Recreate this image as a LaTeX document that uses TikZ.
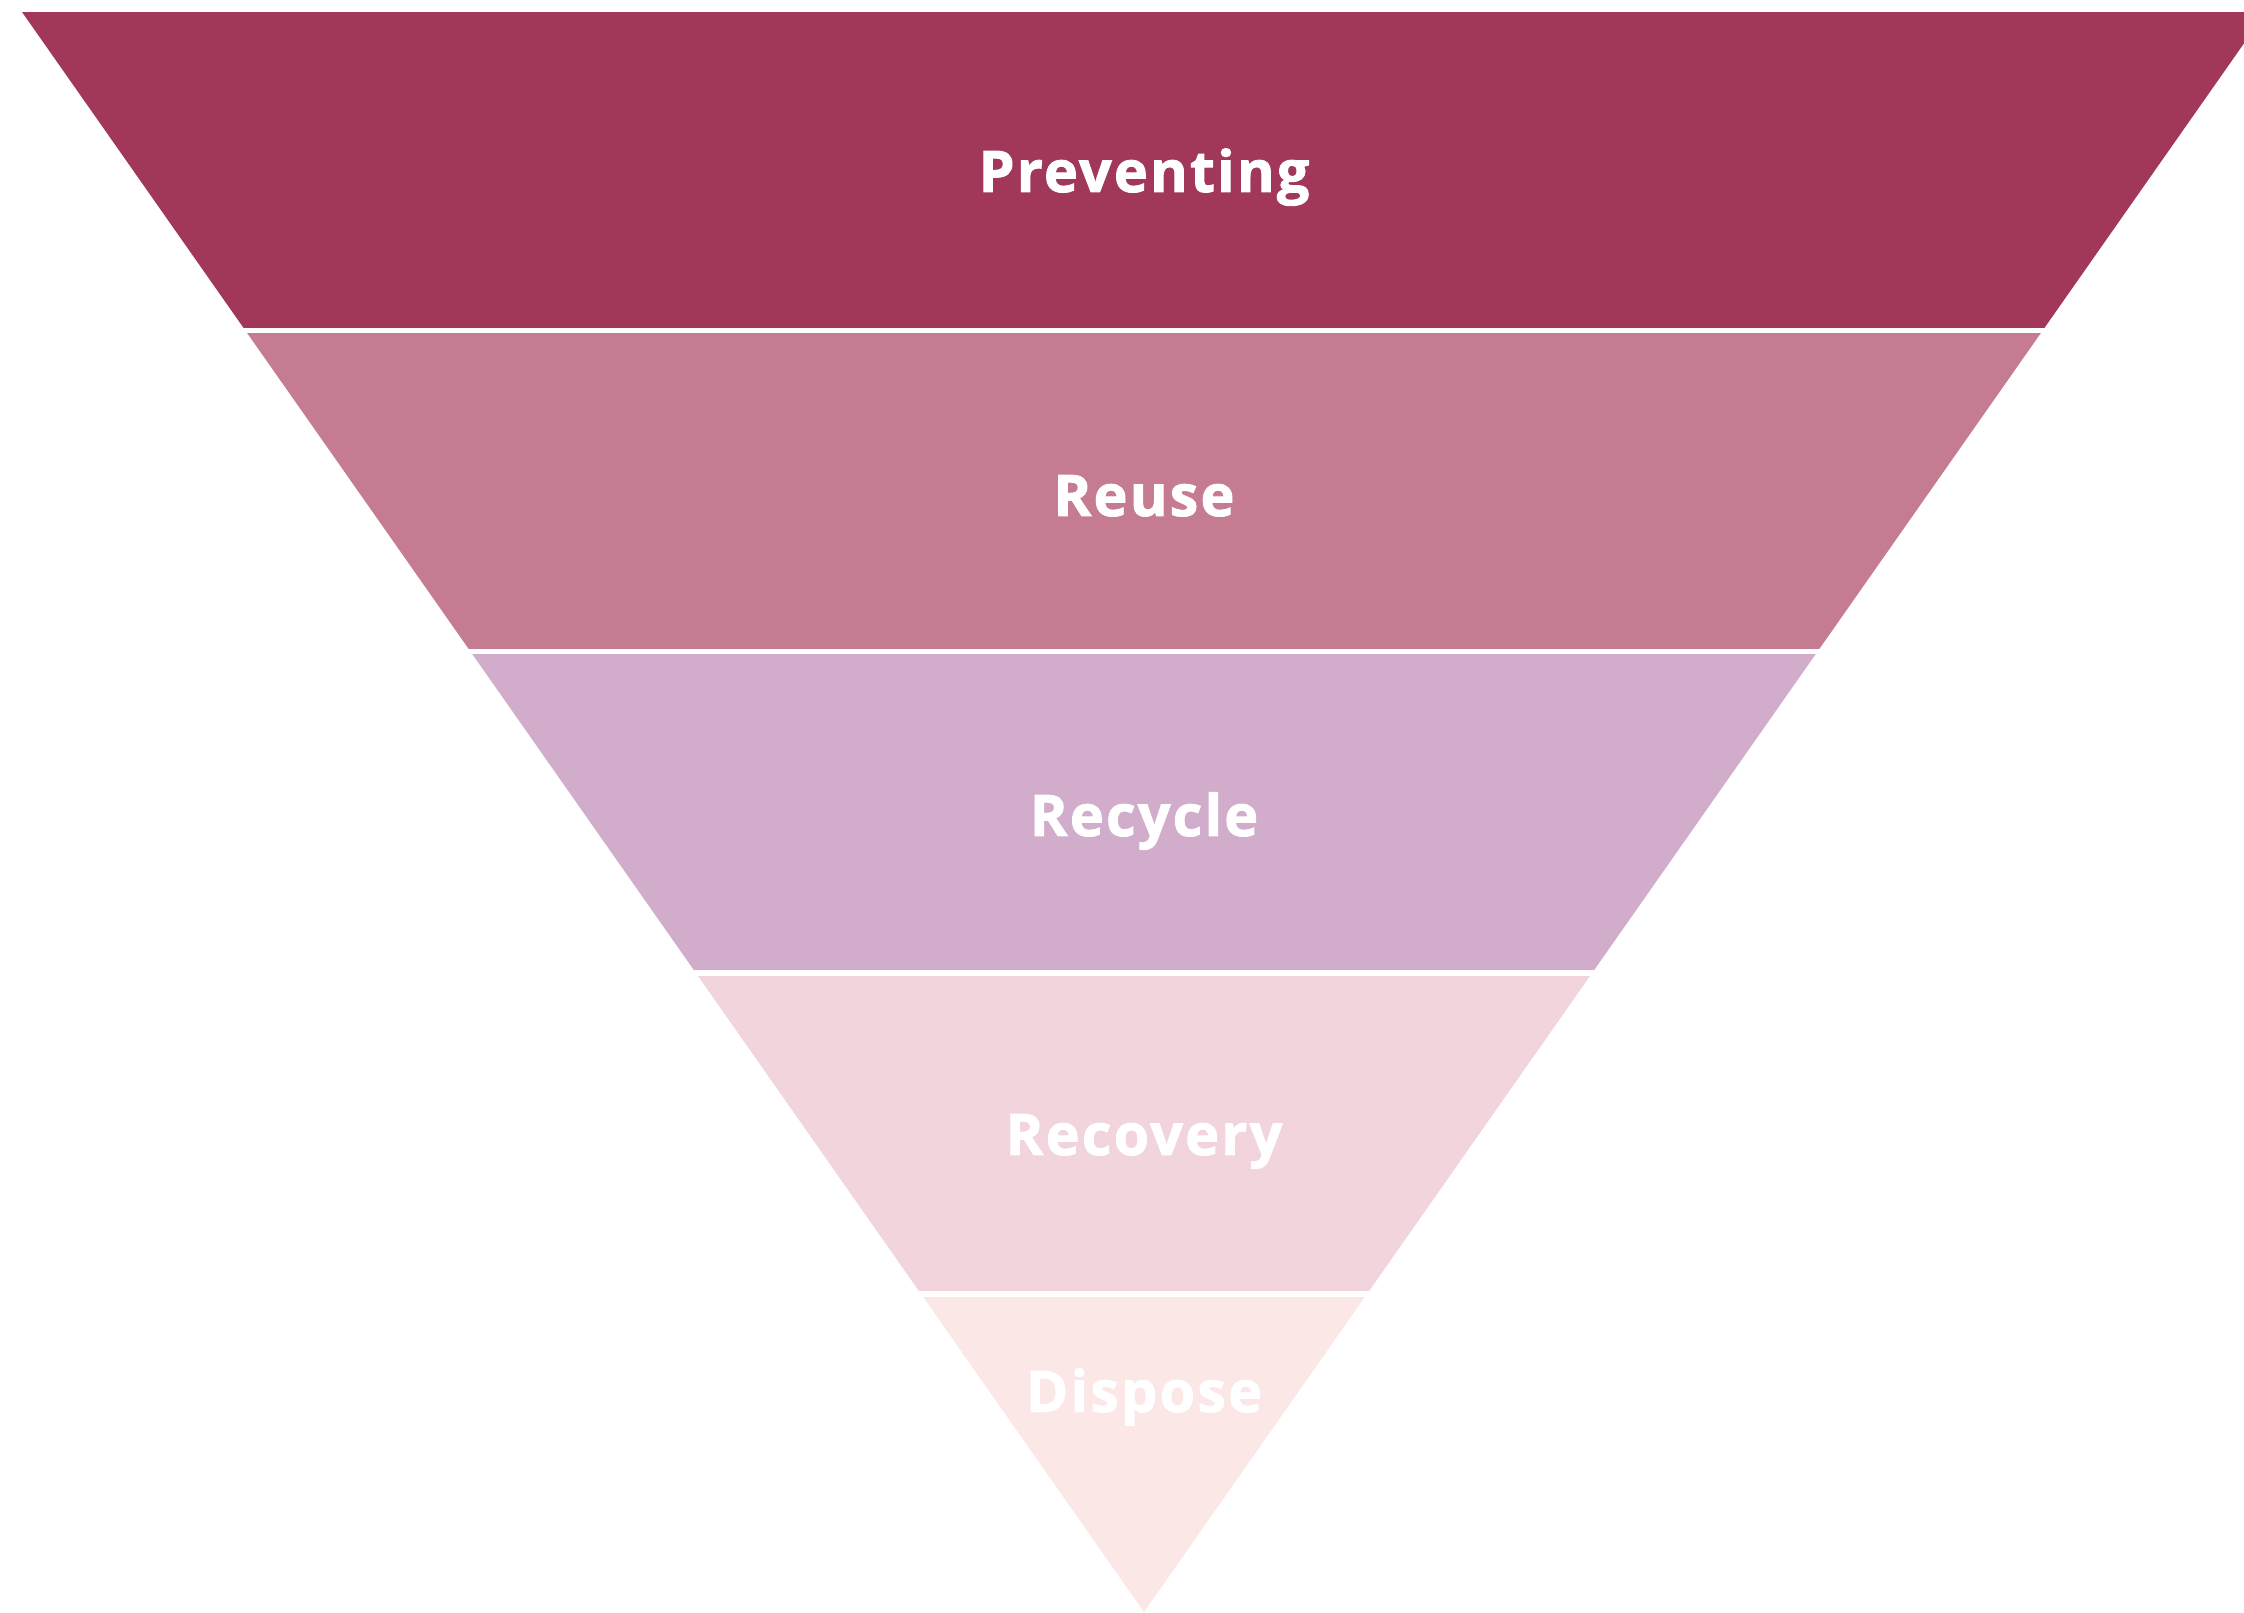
\documentclass[tikz,border=0pt]{standalone}
\usepackage{fontspec}
\setmainfont{Open Sans}
\definecolor{bandA}{HTML}{A1385A}
\definecolor{bandB}{HTML}{C57C91}
\definecolor{bandC}{HTML}{D2ACCB}
\definecolor{bandD}{HTML}{F2D5DC}
\definecolor{bandE}{HTML}{FCE7E7}
\tikzset{
  lbl/.style={anchor=base, text=white, font=\fontsize{16.3}{20}\selectfont\bfseries\addfontfeatures{FakeBold=1.6,LetterSpace=4}, inner sep=0pt}
}
\begin{document}
\begin{tikzpicture}[x=0.01cm,y=-0.01cm]
\useasboundingbox (0,0) rectangle (2244,1613);
\begin{scope}
  \clip (22,12) -- (2266,12) -- (1144,1612) -- cycle;
  \fill[bandA] (0,12) rectangle (2300,327.75);
  \fill[bandB] (0,333.25) rectangle (2300,649);
  \fill[bandC] (0,654.5) rectangle (2300,970.25);
  \fill[bandD] (0,975.75) rectangle (2300,1291.5);
  \fill[bandE] (0,1297) rectangle (2300,1613);
\end{scope}
\node[lbl] (l1) at (1144,192) {Preventing};
\node[lbl] (l2) at (1144,516) {Reuse};
\node[lbl] (l3) at (1144,836) {Recycle};
\node[lbl] (l4) at (1144,1155) {Recovery};
\node[lbl] (l5) at (1144,1412) {Dispose};
\end{tikzpicture}
\end{document}
